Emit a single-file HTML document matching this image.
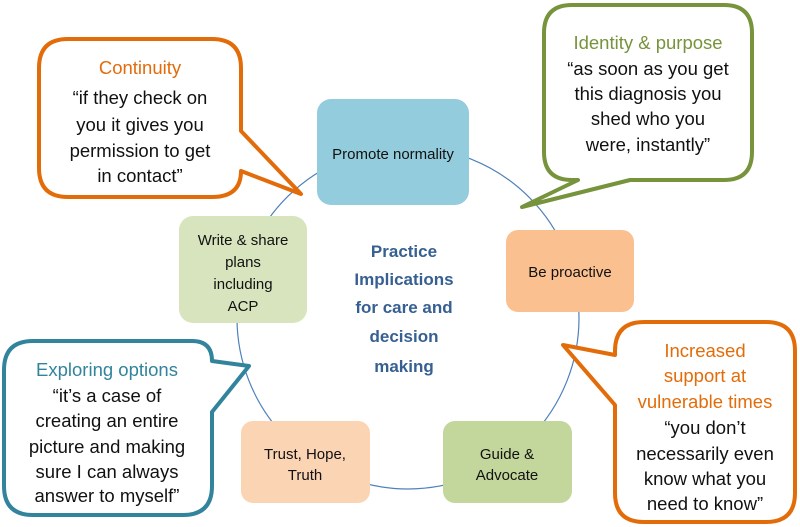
<!DOCTYPE html>
<html><head><meta charset="utf-8"><style>
html,body{margin:0;padding:0;background:#fff}
svg{display:block}
text{font-family:"Liberation Sans",sans-serif}
</style></head><body>
<svg width="800" height="527" viewBox="0 0 800 527" xmlns="http://www.w3.org/2000/svg">
<circle cx="408" cy="318" r="171" fill="none" stroke="#4F81BD" stroke-width="1.2"/>
<rect x="317" y="99" width="152" height="106" rx="14" fill="#93CDDD"/>
<rect x="506" y="230" width="128" height="82" rx="12" fill="#FAC090"/>
<rect x="443" y="421" width="129" height="82" rx="12" fill="#C3D69B"/>
<rect x="241" y="421" width="129" height="82" rx="12" fill="#FBD4B4"/>
<rect x="179" y="216" width="128" height="107" rx="14" fill="#D7E4BD"/>
<g font-size="15" fill="#111" text-anchor="middle">
<text x="393" y="159">Promote normality</text>
<text x="570" y="277">Be proactive</text>
<text x="507" y="459">Guide &amp;</text>
<text x="507" y="480">Advocate</text>
<text x="305" y="459">Trust, Hope,</text>
<text x="305" y="480">Truth</text>
<text x="243" y="245">Write &amp; share</text>
<text x="243" y="267">plans</text>
<text x="243" y="289">including</text>
<text x="243" y="311">ACP</text>
</g>
<g font-size="17" font-weight="bold" fill="#376092" text-anchor="middle">
<text x="404" y="257">Practice</text>
<text x="404" y="285">Implications</text>
<text x="404" y="313">for care and</text>
<text x="404" y="342">decision</text>
<text x="404" y="372">making</text>
</g>
<path d="M68 39 H212 Q241 39 241 68 V131 L301 194 L241 171 Q241 197 212 197 H68 Q39 197 39 168 V68 Q39 39 68 39 Z" fill="#fff" stroke="#E36C0A" stroke-width="4" stroke-linejoin="round"/>
<path d="M572 5 H724 Q752 5 752 33 V152 Q752 180 724 180 H630 L522 207 L578 180 H572 Q544 180 544 152 V33 Q544 5 572 5 Z" fill="#fff" stroke="#77933C" stroke-width="4" stroke-linejoin="round"/>
<path d="M33 341 H192 Q212 341 212 361 L249 366 L212 412 V486 Q212 515 183 515 H33 Q4 515 4 486 V370 Q4 341 33 341 Z" fill="#fff" stroke="#31849B" stroke-width="4" stroke-linejoin="round"/>
<path d="M644 322 H766 Q795 322 795 351 V493 Q795 522 766 522 H644 Q615 522 615 493 V405 L563 345 L615 355 V351 Q615 322 644 322 Z" fill="#fff" stroke="#E36C0A" stroke-width="4" stroke-linejoin="round"/>
<g font-size="18.5" text-anchor="middle">
<text x="140" y="74" fill="#E36C0A">Continuity</text>
<text x="140" y="104" fill="#111">“if they check on</text>
<text x="140" y="131" fill="#111">you it gives you</text>
<text x="140" y="157" fill="#111">permission to get</text>
<text x="140" y="182" fill="#111">in contact”</text>
<text x="648" y="49" fill="#77933C">Identity &amp; purpose</text>
<text x="648" y="75" fill="#111">“as soon as you get</text>
<text x="648" y="100" fill="#111">this diagnosis you</text>
<text x="648" y="125" fill="#111">shed who you</text>
<text x="648" y="151" fill="#111">were, instantly”</text>
<text x="107" y="376" fill="#31849B">Exploring options</text>
<text x="107" y="402" fill="#111">“it’s a case of</text>
<text x="107" y="427" fill="#111">creating an entire</text>
<text x="107" y="453" fill="#111">picture and making</text>
<text x="107" y="478" fill="#111">sure I can always</text>
<text x="107" y="502" fill="#111">answer to myself”</text>
<text x="705" y="357" fill="#E36C0A">Increased</text>
<text x="705" y="382" fill="#E36C0A">support at</text>
<text x="705" y="408" fill="#E36C0A">vulnerable times</text>
<text x="705" y="434" fill="#111">“you don’t</text>
<text x="705" y="460" fill="#111">necessarily even</text>
<text x="705" y="485" fill="#111">know what you</text>
<text x="705" y="510" fill="#111">need to know”</text>
</g>
</svg>
</body></html>
